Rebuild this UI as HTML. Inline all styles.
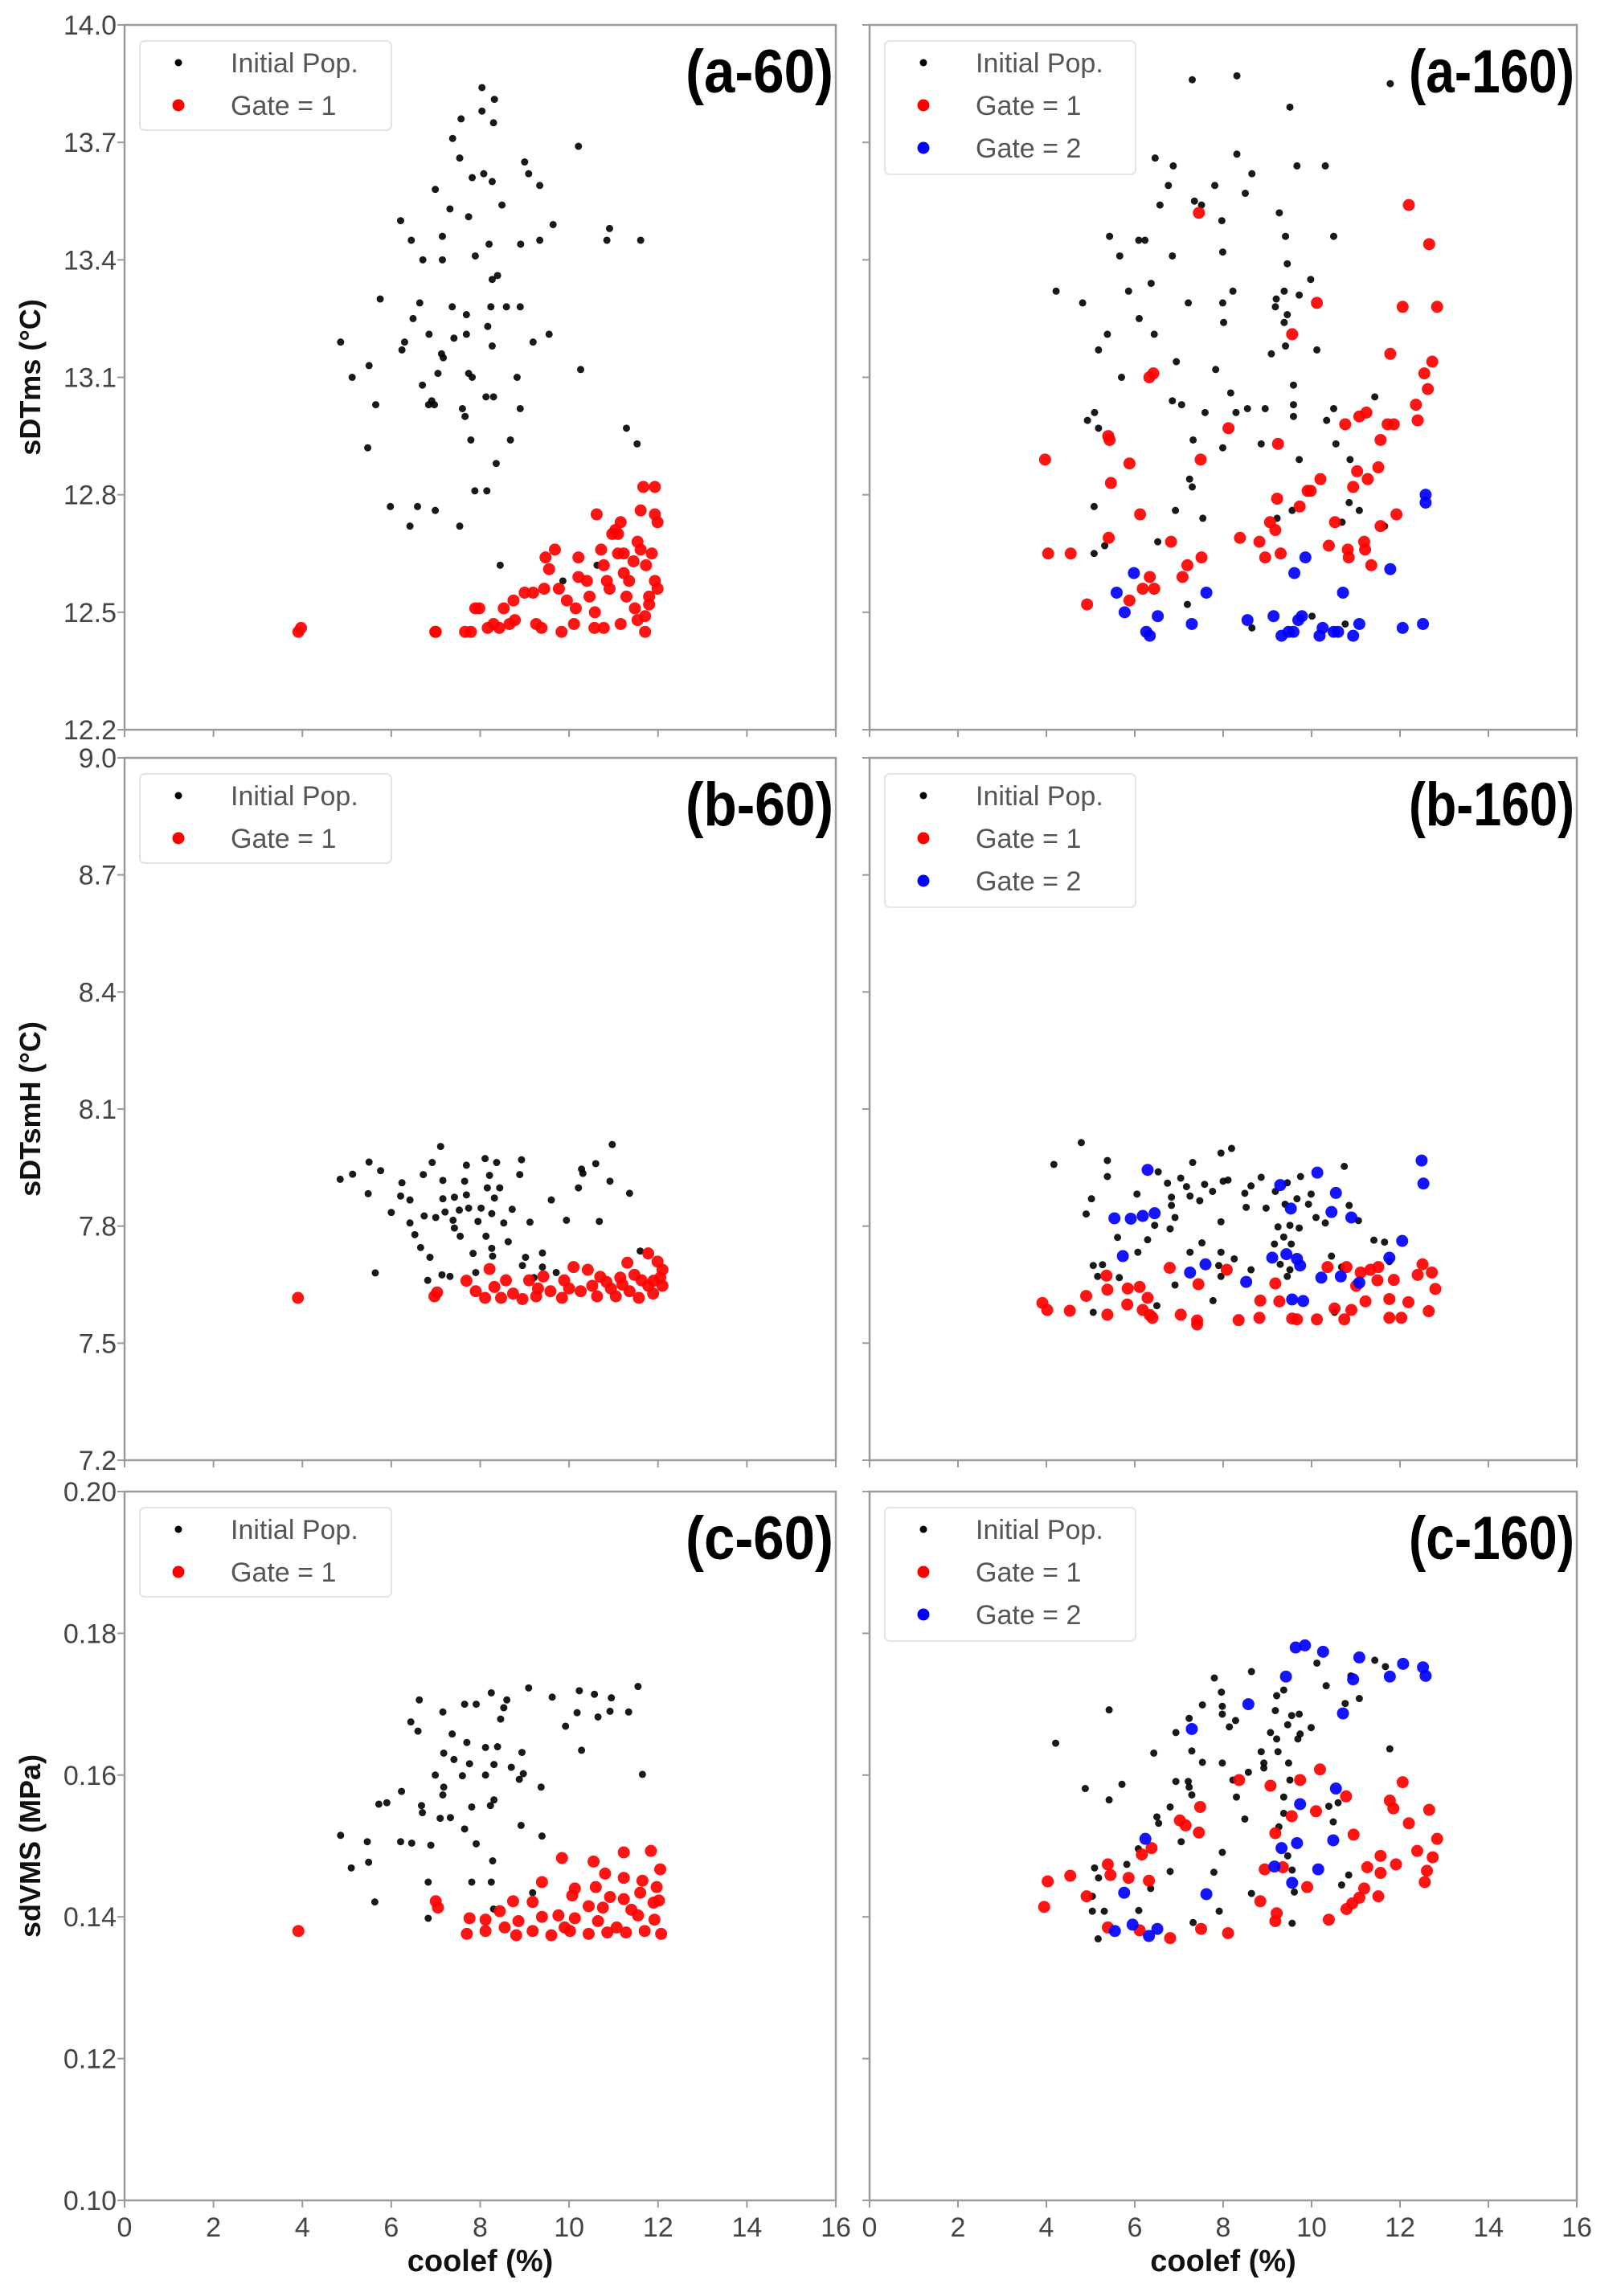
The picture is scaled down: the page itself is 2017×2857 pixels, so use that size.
<!DOCTYPE html>
<html><head><meta charset="utf-8">
<style>
html,body{margin:0;padding:0;background:#fff;}
svg{display:block;}
text{font-family:"Liberation Sans Narrow","Liberation Sans",sans-serif;}
</style></head>
<body>
<svg id="fig" width="2017" height="2857" viewBox="0 0 2017 2857" xmlns="http://www.w3.org/2000/svg"></svg>
<script>
// ---------- data ----------
const xTicks=[0,2,4,6,8,10,12,14,16];
const aTicks=[12.2,12.5,12.8,13.1,13.4,13.7,14.0];
const bTicks=[7.2,7.5,7.8,8.1,8.4,8.7,9.0];
const cTicks=[0.10,0.12,0.14,0.16,0.18,0.20];
const legendLabels=["Initial Pop.","Gate = 1","Gate = 2"];

const a60Init=[[8.04,13.84],[8.32,13.81],[8.04,13.78],[8.30,13.75],[7.57,13.76],[7.38,13.71],[7.54,13.66],[10.21,13.69],[9.0,13.65],[9.09,13.62],[8.08,13.62],[7.82,13.61],[8.27,13.60],[9.34,13.59],[6.99,13.58],[8.49,13.54],[7.32,13.53],[7.74,13.51],[6.21,13.50],[9.64,13.49],[10.91,13.48],[6.45,13.45],[7.15,13.46],[8.2,13.44],[8.91,13.44],[9.34,13.45],[10.85,13.45],[11.61,13.45],[7.89,13.41],[6.71,13.40],[7.15,13.40],[8.27,13.35],[8.39,13.36],[5.75,13.30],[6.64,13.29],[7.37,13.28],[8.24,13.28],[8.59,13.28],[8.9,13.28],[7.69,13.26],[6.49,13.25],[8.17,13.23],[6.85,13.21],[7.41,13.20],[7.69,13.21],[9.55,13.21],[4.86,13.19],[6.3,13.19],[9.19,13.19],[8.27,13.18],[6.24,13.17],[7.13,13.16],[7.17,13.15],[5.5,13.13],[5.12,13.10],[7.05,13.11],[7.74,13.11],[7.82,13.10],[8.83,13.10],[10.26,13.12],[6.70,13.08],[8.13,13.05],[8.30,13.05],[6.91,13.04],[6.84,13.03],[6.97,13.03],[5.65,13.03],[8.9,13.02],[7.6,13.02],[7.66,13.0],[11.29,12.97],[5.47,12.92],[7.79,12.94],[8.68,12.94],[11.53,12.93],[8.36,12.88],[7.88,12.81],[8.15,12.81],[5.98,12.77],[6.59,12.77],[6.99,12.76],[6.42,12.72],[7.54,12.72],[8.45,12.62],[10.63,12.62],[9.86,12.58]];
const a60Gate1=[[3.91,12.45],[3.97,12.46],[6.99,12.45],[7.0,12.45],[7.66,12.45],[7.79,12.45],[8.17,12.46],[8.3,12.47],[8.43,12.46],[8.66,12.47],[8.78,12.48],[7.89,12.51],[7.98,12.51],[8.53,12.51],[8.75,12.53],[9.0,12.55],[9.26,12.47],[9.38,12.46],[9.83,12.45],[10.11,12.47],[10.57,12.46],[10.78,12.46],[11.16,12.47],[11.71,12.45],[11.71,12.49],[11.8,12.52],[9.19,12.55],[9.44,12.56],[9.55,12.61],[9.68,12.66],[9.47,12.64],[9.77,12.56],[9.95,12.53],[10.21,12.64],[10.21,12.59],[10.15,12.51],[10.4,12.58],[10.46,12.54],[10.58,12.50],[10.62,12.75],[10.72,12.66],[10.78,12.62],[10.85,12.58],[10.91,12.56],[10.97,12.70],[11.04,12.71],[11.16,12.73],[11.1,12.65],[11.23,12.60],[11.29,12.54],[11.35,12.58],[11.45,12.63],[11.54,12.68],[11.61,12.66],[11.67,12.82],[11.93,12.82],[11.61,12.76],[11.93,12.75],[11.99,12.73],[11.73,12.62],[11.86,12.65],[11.93,12.58],[11.99,12.56],[11.8,12.54],[11.48,12.51],[11.54,12.48],[11.1,12.70],[11.23,12.65]];

const a160Init=[[7.3,13.86],[8.31,13.87],[9.51,13.79],[11.78,13.85],[6.46,13.66],[6.87,13.64],[8.31,13.67],[8.65,13.62],[9.67,13.64],[10.31,13.64],[6.76,13.59],[7.81,13.59],[8.5,13.57],[6.57,13.54],[7.35,13.55],[7.51,13.54],[7.97,13.50],[9.27,13.52],[5.43,13.46],[6.09,13.45],[6.23,13.45],[9.41,13.46],[10.5,13.46],[5.66,13.41],[6.85,13.41],[7.99,13.42],[9.45,13.39],[9.98,13.35],[4.22,13.32],[5.86,13.32],[6.37,13.34],[8.22,13.32],[9.38,13.32],[9.72,13.31],[9.2,13.30],[4.82,13.29],[7.21,13.29],[7.99,13.29],[9.18,13.28],[6.1,13.25],[9.45,13.26],[8.01,13.24],[9.38,13.24],[5.38,13.21],[6.44,13.21],[5.18,13.17],[9.41,13.18],[9.09,13.16],[10.12,13.17],[6.94,13.14],[7.83,13.12],[5.7,13.10],[9.59,13.08],[8.17,13.06],[11.43,13.05],[6.85,13.04],[7.06,13.03],[7.59,13.01],[8.29,13.01],[8.55,13.02],[8.95,13.02],[9.59,13.03],[9.59,13.0],[10.5,13.02],[10.34,12.99],[5.09,13.01],[4.93,12.99],[5.18,12.97],[7.32,12.94],[7.99,12.92],[8.86,12.93],[10.55,12.93],[9.72,12.89],[10.87,12.89],[7.24,12.84],[7.3,12.82],[5.08,12.77],[6.92,12.76],[7.54,12.74],[9.56,12.76],[10.85,12.78],[11.08,12.76],[10.69,12.73],[11.65,12.72],[9.22,12.74],[6.52,12.68],[5.32,12.67],[5.08,12.65],[7.19,12.52],[8.65,12.46],[10.01,12.49],[10.76,12.47]];
const a160Gate1=[[7.45,13.52],[12.2,13.54],[12.66,13.44],[10.12,13.29],[12.06,13.28],[12.84,13.28],[9.56,13.21],[11.78,13.16],[12.73,13.14],[12.55,13.11],[12.63,13.07],[6.33,13.10],[6.42,13.11],[12.36,13.03],[12.4,12.99],[10.76,12.98],[11.08,13.0],[11.24,13.01],[11.72,12.98],[11.86,12.98],[8.12,12.97],[5.4,12.95],[5.43,12.94],[9.24,12.93],[11.56,12.94],[3.97,12.89],[5.88,12.88],[7.49,12.89],[5.46,12.83],[11.03,12.86],[11.27,12.84],[11.51,12.87],[10.2,12.84],[10.94,12.82],[9.91,12.81],[9.98,12.81],[9.22,12.79],[9.73,12.77],[6.12,12.75],[9.06,12.73],[9.18,12.71],[10.53,12.73],[11.92,12.75],[11.56,12.72],[5.41,12.69],[6.82,12.68],[8.38,12.69],[8.82,12.68],[11.19,12.68],[11.21,12.66],[10.39,12.67],[10.82,12.66],[10.84,12.64],[11.35,12.62],[4.04,12.65],[4.55,12.65],[8.95,12.64],[9.3,12.65],[7.51,12.64],[7.19,12.62],[7.08,12.59],[6.34,12.59],[6.18,12.56],[6.44,12.56],[5.88,12.53],[4.92,12.52]];
const a160Gate2=[[12.58,12.80],[12.58,12.78],[9.86,12.64],[9.61,12.60],[11.78,12.61],[10.71,12.55],[5.98,12.60],[5.59,12.55],[7.62,12.55],[5.77,12.50],[6.52,12.49],[7.29,12.47],[6.26,12.45],[6.34,12.44],[8.55,12.48],[9.14,12.49],[9.32,12.44],[9.48,12.45],[9.59,12.45],[9.7,12.48],[9.78,12.49],[10.18,12.44],[10.25,12.46],[10.5,12.45],[10.6,12.45],[10.94,12.44],[11.08,12.47],[12.06,12.46],[12.52,12.47]];

const b60Init=[[7.11,8.004],[10.97,8.009],[5.5,7.964],[6.92,7.963],[7.69,7.956],[8.11,7.973],[8.37,7.963],[8.93,7.97],[10.28,7.946],[10.6,7.96],[5.13,7.933],[5.76,7.942],[4.85,7.92],[6.72,7.932],[7.16,7.917],[7.65,7.915],[8.21,7.93],[8.89,7.932],[10.31,7.935],[10.92,7.915],[6.24,7.911],[5.48,7.883],[6.21,7.877],[6.42,7.867],[7.16,7.87],[7.42,7.874],[7.69,7.88],[8.16,7.898],[8.44,7.898],[8.32,7.872],[9.6,7.867],[10.21,7.898],[11.36,7.884],[6.0,7.835],[6.74,7.826],[7.0,7.822],[7.21,7.836],[7.53,7.841],[7.74,7.846],[8.02,7.846],[8.26,7.832],[8.72,7.843],[6.42,7.808],[7.39,7.815],[7.95,7.812],[8.53,7.808],[9.12,7.81],[9.94,7.815],[10.68,7.812],[7.42,7.795],[6.53,7.778],[7.55,7.774],[8.13,7.774],[8.63,7.76],[6.66,7.745],[8.26,7.743],[7.84,7.73],[6.87,7.72],[8.28,7.723],[9.02,7.72],[9.4,7.731],[11.6,7.736],[8.95,7.699],[9.4,7.695],[5.64,7.68],[6.82,7.661],[7.14,7.675],[7.32,7.671],[7.9,7.681],[9.71,7.681],[9.21,7.668]];
const b60Gate1=[[3.9,7.616],[6.97,7.62],[7.03,7.63],[7.69,7.66],[8.21,7.69],[7.9,7.633],[8.32,7.644],[8.58,7.661],[8.74,7.627],[9.1,7.661],[9.26,7.62],[9.42,7.671],[9.58,7.633],[9.84,7.616],[10.1,7.695],[10.42,7.688],[10.26,7.633],[10.52,7.647],[10.63,7.62],[10.84,7.657],[11.05,7.62],[11.15,7.668],[11.31,7.706],[11.36,7.633],[11.57,7.616],[11.63,7.661],[11.78,7.73],[11.99,7.709],[12.05,7.668],[12.1,7.647],[11.89,7.627],[8.47,7.616],[8.95,7.613],[8.11,7.616],[9.89,7.661],[10.94,7.64],[11.78,7.647],[11.47,7.675],[12.1,7.688],[9.3,7.64],[10.0,7.64],[10.7,7.67],[11.2,7.65],[11.9,7.66]];

const b160Init=[[4.79,8.014],[4.17,7.958],[5.38,7.968],[7.31,7.963],[7.95,7.987],[8.19,7.999],[10.74,7.953],[5.38,7.927],[6.53,7.939],[6.74,7.91],[7.04,7.923],[7.17,7.901],[7.58,7.907],[7.76,7.889],[8.0,7.915],[8.11,7.918],[8.63,7.903],[8.86,7.925],[9.75,7.927],[5.02,7.87],[6.05,7.882],[6.83,7.874],[7.25,7.877],[7.47,7.865],[8.49,7.884],[9.18,7.889],[9.45,7.911],[9.67,7.87],[9.99,7.882],[6.83,7.853],[8.52,7.848],[8.97,7.846],[9.4,7.856],[9.93,7.856],[10.85,7.853],[4.9,7.831],[6.91,7.822],[7.95,7.811],[10.1,7.822],[10.31,7.808],[11.06,7.814],[6.45,7.802],[6.8,7.793],[9.24,7.798],[9.51,7.802],[9.72,7.795],[5.61,7.771],[6.29,7.765],[9.37,7.772],[7.52,7.757],[9.16,7.754],[9.54,7.754],[11.41,7.764],[11.65,7.759],[6.07,7.733],[7.25,7.733],[7.95,7.733],[8.25,7.716],[10.45,7.723],[5.06,7.699],[5.27,7.701],[7.9,7.699],[8.63,7.688],[9.29,7.702],[9.51,7.688],[10.68,7.695],[11.76,7.709],[5.16,7.671],[5.65,7.668],[7.95,7.671],[9.45,7.671],[6.91,7.649],[7.77,7.609],[5.06,7.579],[6.5,7.596],[10.52,7.579]];
const b160Gate1=[[6.79,7.693],[8.08,7.688],[10.36,7.695],[10.79,7.695],[11.11,7.681],[11.33,7.688],[11.51,7.695],[12.51,7.702],[12.4,7.675],[12.72,7.681],[5.36,7.673],[11.86,7.662],[11.49,7.661],[11.01,7.647],[5.38,7.637],[5.84,7.64],[6.11,7.644],[7.44,7.651],[9.18,7.653],[12.8,7.639],[4.9,7.621],[6.29,7.616],[8.84,7.609],[9.27,7.607],[11.22,7.607],[11.76,7.613],[12.19,7.605],[3.91,7.603],[4.02,7.585],[4.53,7.583],[5.38,7.573],[5.83,7.599],[6.18,7.585],[6.34,7.572],[6.4,7.565],[7.04,7.573],[7.41,7.558],[7.41,7.548],[8.35,7.559],[8.82,7.565],[9.56,7.563],[9.67,7.561],[10.12,7.561],[10.52,7.589],[10.74,7.561],[10.9,7.585],[11.76,7.565],[12.03,7.565],[12.65,7.582]];
const b160Gate2=[[6.29,7.944],[10.13,7.937],[12.49,7.968],[12.53,7.909],[9.29,7.905],[10.55,7.885],[9.53,7.845],[10.45,7.836],[10.9,7.822],[5.54,7.82],[5.91,7.819],[6.18,7.826],[6.45,7.833],[12.05,7.762],[5.73,7.723],[9.11,7.719],[9.43,7.728],[9.67,7.716],[9.74,7.699],[11.76,7.719],[7.6,7.702],[7.25,7.681],[8.52,7.657],[10.22,7.668],[10.66,7.671],[11.08,7.655],[9.56,7.612],[9.81,7.608]];

const c60Init=[[9.09,0.1723],[11.55,0.1725],[10.23,0.1719],[10.57,0.1714],[10.95,0.1709],[8.25,0.1716],[6.63,0.1706],[9.62,0.1710],[8.6,0.1706],[7.65,0.1700],[7.91,0.1700],[7.16,0.1689],[8.53,0.1695],[10.18,0.1688],[10.65,0.1682],[10.92,0.1690],[11.34,0.1689],[8.46,0.1679],[9.92,0.1669],[6.44,0.1675],[6.6,0.1662],[7.37,0.1658],[7.7,0.1646],[8.12,0.1639],[8.39,0.1640],[8.94,0.1632],[10.28,0.1635],[7.18,0.1631],[7.41,0.1622],[7.76,0.1616],[8.31,0.1615],[8.7,0.1611],[8.97,0.1602],[6.99,0.1600],[7.6,0.1599],[8.12,0.1600],[11.65,0.1601],[8.88,0.1594],[7.18,0.1583],[9.37,0.1583],[6.23,0.1577],[7.16,0.1572],[5.72,0.1559],[5.9,0.1561],[6.68,0.1557],[7.81,0.1555],[8.23,0.1557],[8.31,0.1565],[6.7,0.1547],[7.1,0.1539],[7.33,0.1540],[7.65,0.1524],[8.92,0.1529],[4.86,0.1515],[5.46,0.1506],[6.21,0.1506],[6.46,0.1504],[6.89,0.1501],[7.91,0.1503],[9.39,0.1514],[5.49,0.1477],[5.1,0.1469],[8.28,0.1479],[6.83,0.1449],[7.81,0.1449],[8.25,0.1449],[5.63,0.1421],[9.18,0.1434],[6.83,0.1398],[8.3,0.1411]];
const c60Gate1=[[3.91,0.1380],[7.0,0.1422],[7.05,0.1413],[9.84,0.1483],[10.55,0.1478],[11.23,0.1491],[11.84,0.1493],[12.05,0.1467],[10.81,0.1461],[11.23,0.1455],[11.65,0.1451],[9.39,0.1449],[10.13,0.1440],[10.6,0.1442],[11.97,0.1442],[11.6,0.1434],[8.74,0.1422],[9.18,0.1421],[10.07,0.1430],[10.92,0.1428],[11.23,0.1425],[12.02,0.1423],[10.44,0.1415],[10.76,0.1413],[8.44,0.1408],[7.76,0.1398],[8.12,0.1396],[8.86,0.1394],[9.39,0.1400],[9.76,0.1402],[10.13,0.1398],[10.65,0.1394],[11.55,0.1402],[11.92,0.1396],[7.7,0.1376],[8.12,0.1380],[8.81,0.1374],[9.18,0.1380],[9.6,0.1374],[10.02,0.1380],[10.44,0.1376],[10.86,0.1378],[11.28,0.1378],[11.7,0.1380],[12.07,0.1376],[8.55,0.1385],[11.07,0.1385],[9.9,0.1385],[11.4,0.1410],[11.9,0.1420]];

const c160Init=[[5.42,0.1692],[4.21,0.1645],[7.8,0.1737],[8.64,0.1746],[10.12,0.1758],[11.43,0.1762],[11.67,0.1753],[10.33,0.1726],[10.89,0.1740],[7.96,0.1717],[9.21,0.1712],[9.37,0.1720],[11.08,0.1708],[10.76,0.1701],[7.53,0.1699],[7.98,0.1697],[7.98,0.1686],[9.18,0.1691],[9.55,0.1684],[9.72,0.1686],[7.23,0.1680],[8.28,0.1677],[8.14,0.1668],[9.46,0.1671],[9.99,0.1667],[6.93,0.1660],[9.07,0.1660],[9.74,0.1658],[9.21,0.1651],[9.69,0.1651],[11.77,0.1637],[6.43,0.1631],[7.29,0.1634],[8.86,0.1633],[9.24,0.1633],[7.53,0.1618],[7.98,0.1617],[8.92,0.1617],[9.48,0.1617],[8.57,0.1604],[8.92,0.1610],[4.88,0.1581],[5.71,0.1587],[6.93,0.1591],[7.21,0.1591],[7.23,0.1583],[8.22,0.1593],[9.51,0.1593],[5.42,0.1565],[7.29,0.1572],[8.3,0.1569],[9.37,0.1569],[10.39,0.1556],[10.6,0.1561],[6.8,0.1555],[6.5,0.1541],[6.54,0.1532],[8.49,0.1538],[9.37,0.1546],[10.49,0.1534],[9.26,0.1527],[7.05,0.1506],[6.08,0.1496],[7.98,0.1491],[9.46,0.1486],[5.09,0.1469],[5.82,0.1474],[5.18,0.1455],[6.8,0.1464],[7.79,0.1463],[9.56,0.1466],[10.84,0.1459],[10.68,0.1445],[6.36,0.1440],[8.64,0.1433],[9.61,0.1435],[5.04,0.1429],[5.04,0.1408],[5.31,0.1408],[6.09,0.1409],[7.91,0.1408],[7.32,0.1392],[9.56,0.1391],[5.17,0.1369]];
const c160Gate1=[[10.19,0.1608],[8.36,0.1593],[9.07,0.1585],[9.74,0.1593],[12.06,0.1590],[10.78,0.1570],[11.77,0.1564],[11.85,0.1553],[12.66,0.1551],[7.48,0.1555],[10.1,0.1549],[9.55,0.1542],[7.02,0.1536],[7.15,0.1529],[12.2,0.1532],[7.45,0.1519],[9.18,0.1518],[10.95,0.1516],[12.84,0.1510],[6.38,0.1497],[6.16,0.1488],[12.39,0.1493],[11.56,0.1486],[12.74,0.1484],[11.91,0.1474],[11.26,0.1470],[11.56,0.1462],[12.61,0.1465],[12.56,0.1449],[8.94,0.1467],[9.35,0.1470],[5.39,0.1474],[5.45,0.1459],[5.86,0.1455],[4.54,0.1458],[4.03,0.1450],[6.32,0.1451],[9.9,0.1442],[11.19,0.1440],[11.51,0.1429],[11.08,0.1427],[10.92,0.1419],[10.79,0.1411],[4.91,0.1429],[3.95,0.1414],[8.84,0.1422],[9.21,0.1405],[9.18,0.1394],[10.39,0.1396],[5.39,0.1385],[6.11,0.1381],[6.8,0.1370],[7.5,0.1383],[8.11,0.1377]];
const c160Gate2=[[9.64,0.1780],[9.85,0.1783],[10.26,0.1774],[11.08,0.1766],[12.07,0.1757],[12.52,0.1752],[12.58,0.1740],[11.77,0.1739],[10.94,0.1735],[9.42,0.1739],[8.57,0.1700],[10.71,0.1687],[7.29,0.1665],[10.55,0.1581],[9.74,0.1559],[6.24,0.1510],[9.67,0.1504],[10.49,0.1508],[9.32,0.1497],[9.16,0.1471],[10.15,0.1467],[9.56,0.1448],[5.76,0.1434],[7.62,0.1432],[5.95,0.1389],[6.51,0.1383],[5.55,0.1380],[6.32,0.1373]];

// ---------- drawing ----------
const NS="http://www.w3.org/2000/svg";
const svg=document.getElementById('fig');
function mk(tag,attrs,parent){const e=document.createElementNS(NS,tag);for(const k in attrs)e.setAttribute(k,attrs[k]);(parent||svg).appendChild(e);return e;}

const COLL=[155,1040], COLR=[1082,1962];
const ROWS=[[31,908],[943,1817],[1856,2738]];
const COLORS=["#000","#ff0000","#0000ff"];
const RADII=[4.5,7.5,7.5];

function panel(id,col,row,yTicks,yMin,yMax,fmt,title,series,showYLabels,showXLabels,yTitle){
  const [x0,x1]=col,[y0,y1]=row;
  const g=mk('g',{});
  
  
  const sx=v=>x0+(v-0)/(16-0)*(x1-x0);
  const sy=v=>y1-(v-yMin)/(yMax-yMin)*(y1-y0);
  const frame=mk('rect',{x:x0,y:y0,width:x1-x0,height:y1-y0,fill:'#fff',stroke:'#9a9a9a','stroke-width':2.5},g);
  
  
  xTicks.forEach(t=>{
    const tk=mk('line',{x1:sx(t),x2:sx(t),y1:y1,y2:y1+9,stroke:'#9a9a9a','stroke-width':2},g);
    
    
    if(showXLabels){
      const tl=mk('text',{x:sx(t),y:y1+45,'font-size':34,fill:'#444','text-anchor':'middle'},g);
      tl.textContent=String(t);
      
      
    }
  });
  yTicks.forEach(t=>{
    const tk=mk('line',{x1:x0-9,x2:x0,y1:sy(t),y2:sy(t),stroke:'#9a9a9a','stroke-width':2},g);
    
    
    if(showYLabels){
      const tl=mk('text',{x:x0-10,y:sy(t)+12,'font-size':34,fill:'#444','text-anchor':'end'},g);
      tl.textContent=fmt(t);
      
      
    }
  });
  series.forEach((pts,si)=>{
    const sg=mk('g',{fill:COLORS[si],'fill-opacity':si===0?0.9:0.92},g);
    
    
    pts.forEach(p=>{
      const c=mk('circle',{cx:sx(p[0]),cy:sy(p[1]),r:RADII[si]},sg);
      
      
    });
  });
  const n=series.length;
  const lg=mk('g',{},g);
  
  
  const lb=mk('rect',{x:x0+19,y:y0+20,width:n===3?312:313,height:n===3?166:111,rx:6,fill:'#fff',stroke:'#e4e4e4','stroke-width':2},lg);
  
  
  for(let i=0;i<n;i++){
    const cy=y0+47+i*53;
    const m=mk('circle',{cx:x0+67,cy:cy,r:i===0?4.5:7.5,fill:COLORS[i]},lg);
    
    
    const t=mk('text',{x:x0+132,y:cy+12,'font-size':34,fill:'#555'},lg);
    t.textContent=legendLabels[i];
    
    
  }
  const tw=title.length>6?206:184;
  const tt=mk('text',{x:x1-tw-3,y:y0+84,'font-size':76,'font-weight':'bold',fill:'#000',textLength:tw,lengthAdjust:'spacingAndGlyphs'},g);
  tt.textContent=title;
  
  
  if(yTitle){
    const cy=(y0+y1)/2;
    const yt=mk('text',{x:50,y:cy,'font-size':36,'font-weight':'bold',fill:'#111','text-anchor':'middle',transform:'rotate(-90 50 '+cy+')'},g);
    yt.textContent=yTitle;
    
    
  }
}
const f1=v=>v.toFixed(1), f2=v=>v.toFixed(2);
panel('a-60',COLL,ROWS[0],aTicks,12.2,14.0,f1,'(a-60)',[a60Init,a60Gate1],true,false,'sDTms (\u00B0C)');
panel('a-160',COLR,ROWS[0],aTicks,12.2,14.0,f1,'(a-160)',[a160Init,a160Gate1,a160Gate2],false,false,null);
panel('b-60',COLL,ROWS[1],bTicks,7.2,9.0,f1,'(b-60)',[b60Init,b60Gate1],true,false,'sDTsmH (\u00B0C)');
panel('b-160',COLR,ROWS[1],bTicks,7.2,9.0,f1,'(b-160)',[b160Init,b160Gate1,b160Gate2],false,false,null);
panel('c-60',COLL,ROWS[2],cTicks,0.10,0.20,f2,'(c-60)',[c60Init,c60Gate1],true,true,'sdVMS (MPa)');
panel('c-160',COLR,ROWS[2],cTicks,0.10,0.20,f2,'(c-160)',[c160Init,c160Gate1,c160Gate2],false,true,null);
[COLL,COLR].forEach((c,i)=>{
  const xt=mk('text',{x:(c[0]+c[1])/2,y:2826,'font-size':38,'font-weight':'bold',fill:'#111','text-anchor':'middle'});
  xt.textContent='coolef (%)';
  
  
});
</script>
</body></html>
